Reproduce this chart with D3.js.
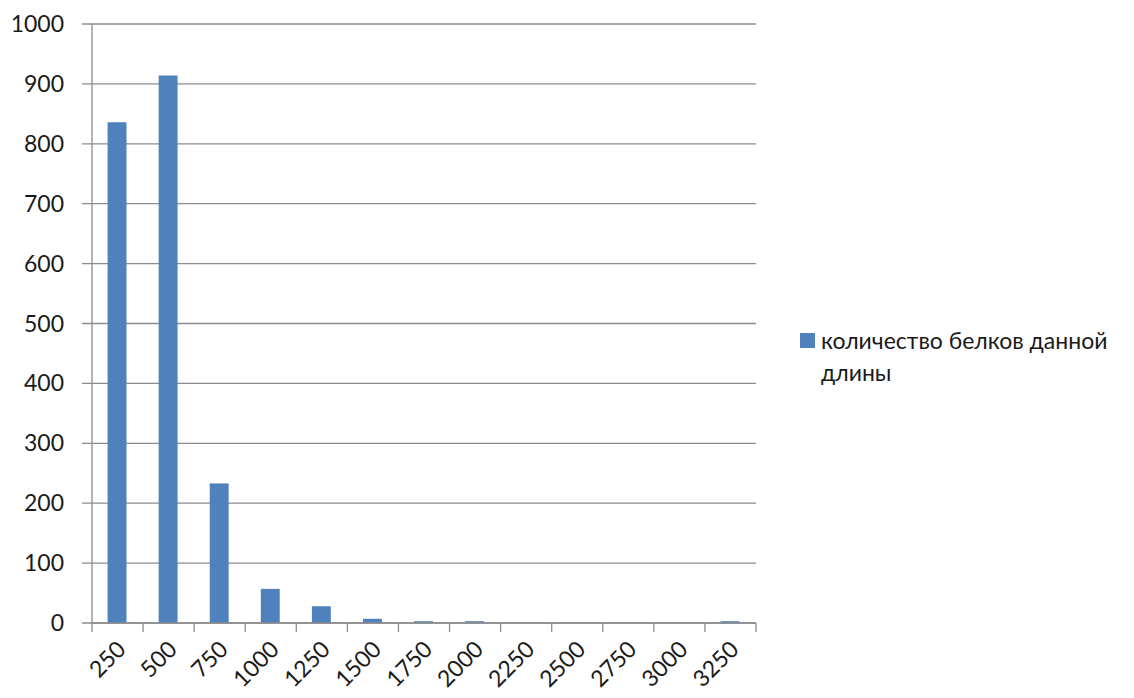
<!DOCTYPE html>
<html><head><meta charset="utf-8">
<script src="https://cdn.jsdelivr.net/npm/d3@7"></script>
<style>body{margin:0;background:#fff}</style>
</head><body>
<svg id="chart" width="1134" height="698"></svg>
<script>
const categories = ["250","500","750","1000","1250","1500","1750","2000","2250","2500","2750","3000","3250"];
const values = [836, 914, 233, 57, 28, 7, 3, 3, 0, 0, 0, 0, 3];
const yTicks = [0,100,200,300,400,500,600,700,800,900,1000];
const seriesName = ["количество белков данной", "длины"];

(function () {
const svg = d3.select("#chart");
const font = "Lato, 'Open Sans', sans-serif";
const fs = 23;
const pL = 92, pR = 756, pT = 24, pB = 623;

const x = d3.scaleBand().domain(categories).range([pL, pR]);
const y = d3.scaleLinear().domain([0, 1000]).range([pB, pT]);

// gridlines
svg.append("g").selectAll("line").data(yTicks).join("line")
  .attr("x1", pL - 10).attr("x2", pR)
  .attr("y1", d => y(d)).attr("y2", d => y(d))
  .attr("stroke", "#8c8c8c").attr("stroke-width", 1.3);

// y axis line
svg.append("line").attr("x1", pL).attr("x2", pL).attr("y1", pT).attr("y2", pB)
  .attr("stroke", "#8c8c8c").attr("stroke-width", 1.3);

// y labels
svg.append("g").selectAll("text").data(yTicks).join("text")
  .attr("x", 64).attr("y", d => y(d)).attr("dy", "0.35em")
  .attr("text-anchor", "end").attr("font-family", font).attr("font-size", fs)
  .attr("fill", "#1a1a1a").text(d => d);

// bars
const bw = x.bandwidth() * 0.37;
svg.append("g").selectAll("rect").data(values).join("rect")
  .attr("x", (d, i) => x(categories[i]) + x.bandwidth() / 2 - bw / 2 - 0.5)
  .attr("width", bw)
  .attr("y", d => y(d)).attr("height", d => pB - y(d))
  .attr("fill", "#4f81bd");

// x axis ticks
const tickPos = categories.map(c => x(c)).concat([pR]);
svg.append("g").selectAll("line").data(tickPos).join("line")
  .attr("x1", d => d).attr("x2", d => d).attr("y1", pB).attr("y2", pB + 9)
  .attr("stroke", "#8c8c8c").attr("stroke-width", 1.3);
svg.append("line").attr("x1", pL).attr("x2", pR).attr("y1", pB).attr("y2", pB)
  .attr("stroke", "#8c8c8c").attr("stroke-width", 1.3);

// x labels
svg.append("g").selectAll("text").data(categories).join("text")
  .attr("transform", d => `translate(${x(d) + x.bandwidth() / 2 + 4},${pB + 22}) rotate(-45)`)
  .attr("text-anchor", "end").attr("dy", "0.35em")
  .attr("font-family", font).attr("font-size", fs).attr("fill", "#1a1a1a").text(d => d);

// legend
svg.append("rect").attr("x", 800).attr("y", 333).attr("width", 15).attr("height", 15).attr("fill", "#4f81bd");
svg.append("g").selectAll("text").data(seriesName).join("text")
  .attr("x", 821).attr("y", (d, i) => 349 + i * 32)
  .attr("font-family", font).attr("font-size", fs).attr("fill", "#1a1a1a").text(d => d);
})();
</script>
</body></html>
